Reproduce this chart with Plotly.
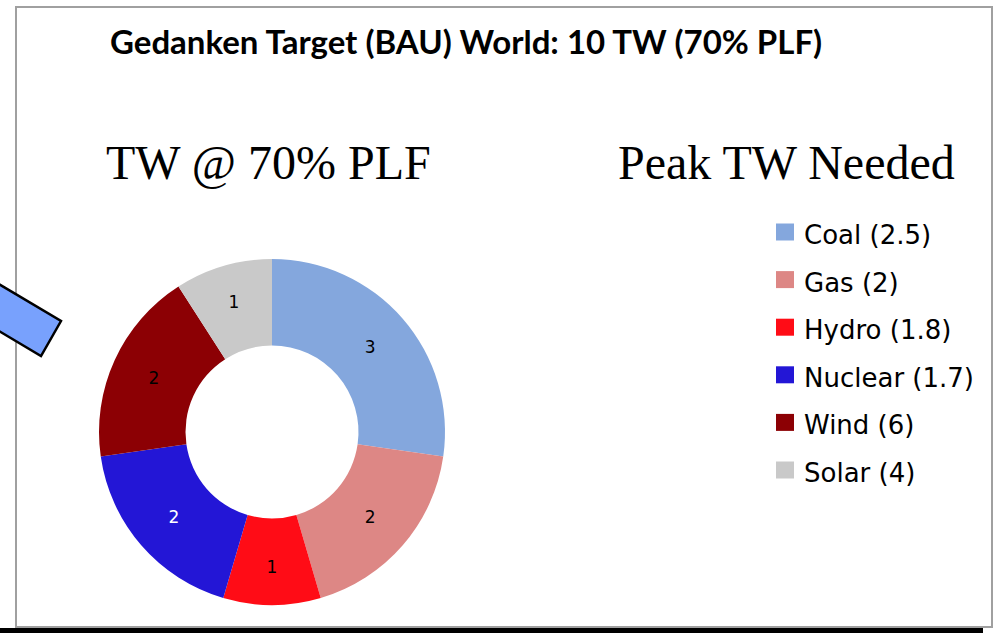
import plotly.graph_objects as go

# ---- data ----
categories = ["Coal", "Gas", "Hydro", "Nuclear", "Wind", "Solar"]
tw_at_70_plf = [3, 2, 1, 2, 2, 1]
peak_tw_needed = [2.5, 2, 1.8, 1.7, 6, 4]
slice_colors = ["#84a7dd", "#dd8785", "#ff0c16", "#2316d6", "#8c0004", "#c9c9c9"]
label_colors = ["black", "black", "black", "white", "black", "black"]

title_text = "Gedanken Target (BAU) World: 10 TW (70% PLF)"
left_heading = "TW @ 70% PLF"
right_heading = "Peak TW Needed"

W, H = 996, 633


def px(x):
    return x / W


def py(y):
    return 1 - y / H


cx, cy, r = 272, 432, 173

fig = go.Figure(
    go.Pie(
        labels=categories,
        values=tw_at_70_plf,
        hole=0.5,
        sort=False,
        direction="clockwise",
        rotation=0,
        marker=dict(colors=slice_colors, line=dict(width=0)),
        textinfo="value",
        textposition="inside",
        insidetextorientation="horizontal",
        insidetextfont=dict(family="DejaVu Sans", size=17, color=label_colors),
        showlegend=False,
        domain=dict(x=[px(cx - r), px(cx + r)], y=[py(cy + r), py(cy - r)]),
        hoverinfo="label+value",
    )
)

shapes = []
annotations = []

# frame
shapes.append(dict(type="rect", xref="paper", yref="paper",
                   x0=px(16), x1=px(992), y0=py(627), y1=py(7),
                   line=dict(color="#a0a0a0", width=2), fillcolor="rgba(0,0,0,0)", layer="below"))
shapes.append(dict(type="rect", xref="paper", yref="paper",
                   x0=px(-5), x1=px(983), y0=py(645), y1=py(628),
                   line=dict(width=0), fillcolor="black"))

# blue arrow stub on the left
pts = [(-45, 258), (61, 321), (41, 356), (-65, 293)]
path = "M " + " L ".join(f"{px(x)},{py(y)}" for x, y in pts) + " Z"
shapes.append(dict(type="path", xref="paper", yref="paper", path=path,
                   fillcolor="#78a1fd", line=dict(color="black", width=2.5)))

# manual legend
for i, (cat, pk, col) in enumerate(zip(categories, peak_tw_needed, slice_colors)):
    yc = 232 + i * 47.6
    shapes.append(dict(type="rect", xref="paper", yref="paper",
                       x0=px(776), x1=px(794), y0=py(yc + 8.5), y1=py(yc - 8.5),
                       fillcolor=col, line=dict(width=0)))
    annotations.append(dict(xref="paper", yref="paper", x=px(802), y=py(yc + 3),
                            xanchor="left", yanchor="middle", showarrow=False,
                            text=f"{cat} ({pk:g})",
                            font=dict(family="DejaVu Sans", size=26, color="black")))

annotations.append(dict(xref="paper", yref="paper", x=px(466), y=py(41),
                        xanchor="center", yanchor="middle", showarrow=False,
                        text=f"<b>{title_text}</b>",
                        font=dict(family="Lato", size=33, color="black")))
annotations.append(dict(xref="paper", yref="paper", x=px(268), y=py(162),
                        xanchor="center", yanchor="middle", showarrow=False,
                        text=left_heading,
                        font=dict(family="Liberation Serif", size=48, color="black")))
annotations.append(dict(xref="paper", yref="paper", x=px(786), y=py(162),
                        xanchor="center", yanchor="middle", showarrow=False,
                        text=right_heading,
                        font=dict(family="Liberation Serif", size=48, color="black")))

fig.update_layout(
    width=W, height=H,
    margin=dict(l=0, r=0, t=0, b=0),
    paper_bgcolor="white",
    plot_bgcolor="white",
    shapes=shapes,
    annotations=annotations,
)

fig.write_html("out.html", config={"displayModeBar": False},
               post_script="document.body.style.margin='0';")
